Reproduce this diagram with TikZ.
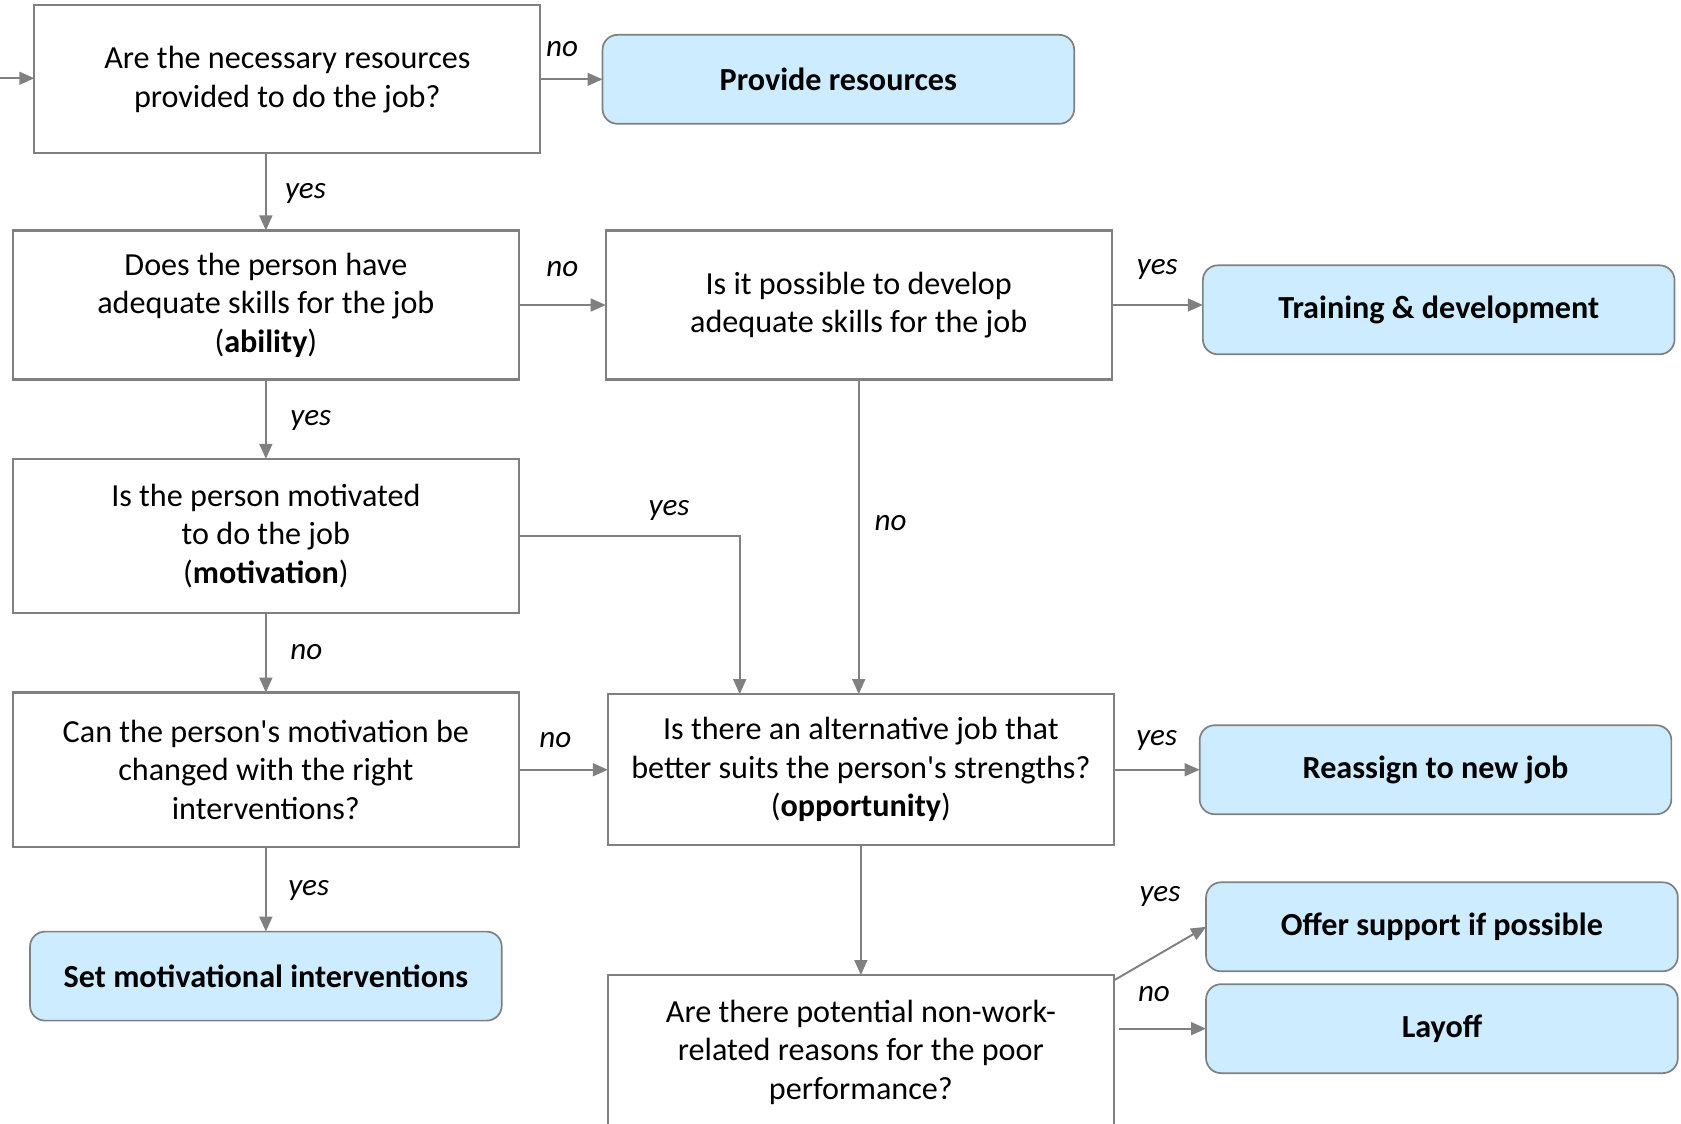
\documentclass[tikz,border=0pt]{standalone}
\usepackage{fontspec}
\setmainfont{Carlito}
\usetikzlibrary{arrows.meta, positioning}
\definecolor{actionblue}{RGB}{206,236,255}
\definecolor{linegray}{RGB}{128,128,128}

\begin{document}
\begin{tikzpicture}[
      font=\fontsize{15}{18}\selectfont,
      question/.style={rectangle, draw=linegray, line width=1pt, outer sep=0pt, minimum width=236pt, align=center, inner sep=2pt},
      action/.style={rectangle, draw=linegray, line width=0.8pt, outer sep=0pt, rounded corners=7pt, minimum width=220pt, minimum height=41.5pt, align=center, fill=actionblue, font=\fontsize{15}{18}\selectfont\bfseries},
      arrow/.style={-{Triangle[length=7pt, width=6pt]}, draw=linegray, line width=0.9pt},
      lbl/.style={font=\fontsize{14.5}{18}\selectfont\itshape, inner sep=0pt, text height=6pt, text depth=0pt}
    ]
    \useasboundingbox (0,0) rectangle (784pt,-524pt);

    % left column
    \node[question, minimum height=69pt] (res) at (134pt,-37pt) {Are the necessary resources\\provided to do the job?};
    \node[question, minimum height=69.5pt, below=36pt of res, xshift=-10pt] (ability) {Does the person have\\adequate skills for the job\\(\textbf{ability})};
    \node[question, minimum height=72pt, below=37pt of ability] (motiv) {Is the person motivated\\to do the job\\(\textbf{motivation})};
    \node[question, minimum height=72pt, below=37pt of motiv] (change) {Can the person\textquotesingle s motivation be\\changed with the right\\interventions?};
    \node[action, below=39.5pt of change] (setmot) {Set motivational interventions};

    % middle column
    \node[action, right=29pt of res] (provide) {Provide resources};
    \node[question, minimum height=69.5pt, right=40.5pt of ability] (develop) {Is it possible to develop\\adequate skills for the job};
    \node[question, minimum height=70.5pt, right=41.5pt of change] (opp) {Is there an alternative job that\\better suits the person\textquotesingle s strengths?\\(\textbf{opportunity})};
    \node[question, minimum height=72pt, below=60.5pt of opp] (nonwork) {Are there potential non-work-\\related reasons for the poor\\performance?};

    % right column
    \node[action, right=42.5pt of develop, yshift=-2.25pt] (training) {Training \& development};
    \node[action, right=40pt of opp] (reassign) {Reassign to new job};
    \node[action, right=43pt of nonwork, yshift=11pt] (layoff) {Layoff};
    \node[action, above=6pt of layoff] (offer) {Offer support if possible};

    \coordinate (entry) at (0pt,-36.5pt);

    \draw[arrow] (entry) -- (entry -| res.west);
    \draw[arrow] (res.east) -- node[lbl, above=10pt, pos=0.35] {no} (provide);
    \draw[arrow] (ability |- res.south) -- node[lbl, right=8.5pt] {yes} (ability.north);
    \draw[arrow] (ability) -- node[lbl, above=13pt] {no} (develop);
    \draw[arrow] (develop.east) -- node[lbl, above=14pt] {yes} (develop.east -| training.west);
    \draw[arrow] (develop.south) -- node[lbl, right=7pt, pos=0.46] {no} (develop.south |- opp.north);
    \draw[arrow] (ability) -- node[lbl, right=11pt] {yes} (motiv);
    \draw[arrow] (motiv.east) -| node[lbl, above=9pt, pos=0.34] {yes} ([xshift=61.5pt]opp.north west);
    \draw[arrow] (motiv) -- node[lbl, right=11pt] {no} (change);
    \draw[arrow] (change) -- node[lbl, above=10pt, pos=0.41] {no} (opp);
    \draw[arrow] (change) -- node[lbl, right=10pt] {yes} (setmot);
    \draw[arrow] (opp) -- node[lbl, above=11pt] {yes} (reassign);
    \draw[arrow] (opp) -- (nonwork);
    \draw[arrow] ([yshift=-2.5pt]nonwork.north east) -- node[lbl, above=24pt] {yes} (offer.west);
    \draw[arrow] ([xshift=2.5pt]layoff.west -| nonwork.east) -- node[lbl, above=12pt, pos=0.4] {no} (layoff.west);
  \end{tikzpicture}
\end{document}
